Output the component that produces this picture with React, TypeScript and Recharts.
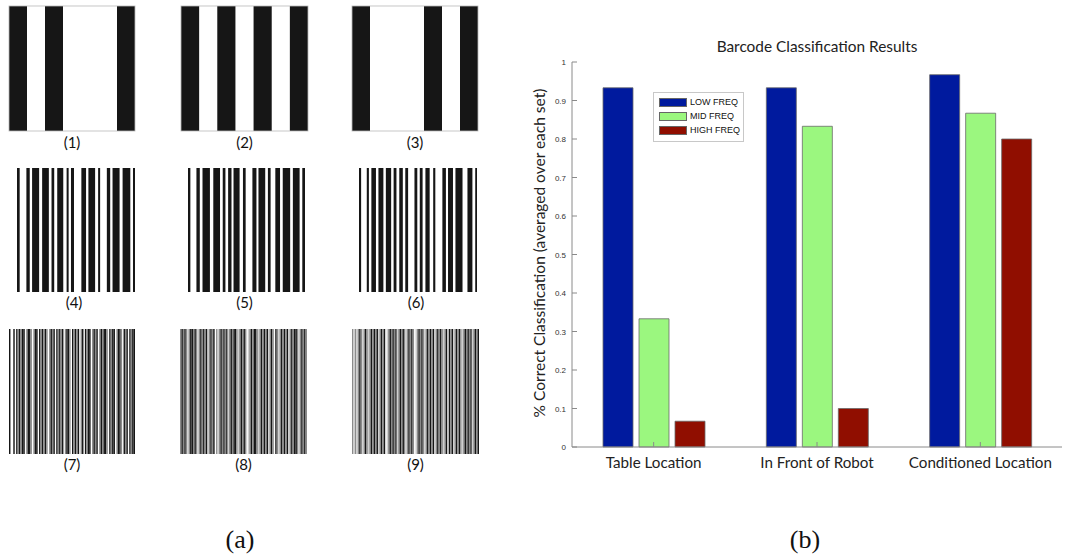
import React from "react";
import { BarChart, Bar, XAxis, YAxis, Legend } from "recharts";

// ---- chart data ----
const categories = ["Table Location", "In Front of Robot", "Conditioned Location"];
const lowFreq = [0.933, 0.933, 0.967];
const midFreq = [0.333, 0.833, 0.867];
const highFreq = [0.067, 0.1, 0.8];
const yTicks = [0, 0.1, 0.2, 0.3, 0.4, 0.5, 0.6, 0.7, 0.8, 0.9, 1];
const seriesKeys = ["low", "mid", "high"];
const seriesNames = ["LOW FREQ", "MID FREQ", "HIGH FREQ"];
const seriesColors = ["#001a9e", "#9bf77f", "#900e00"];

const chartTitle = "Barcode Classification Results";
const yAxisTitle = "% Correct Classification (averaged over each set)";

// ---- barcode samples, panel (a) ----
// coarse codes: one character per module, 1 = bar, 0 = space
const coarseCodes = ["1010001", "1010101", "1000101"];
// medium codes: run lengths alternating bar / space, starting with a bar
const mediumCodes = [
  [8, 20, 10, 7, 21, 9, 20, 8, 8, 9, 18, 10, 6, 7, 9, 22, 14, 7, 20, 9, 6, 20, 10, 7, 21, 9, 23, 8, 6],
  [7, 18, 10, 8, 22, 10, 20, 8, 8, 8, 10, 6, 18, 10, 8, 20, 12, 6, 20, 8, 8, 14, 14, 8, 22, 8, 20, 8, 8],
  [6, 16, 6, 7, 13, 7, 14, 7, 15, 7, 8, 8, 10, 7, 8, 18, 8, 7, 8, 8, 12, 10, 6, 20, 10, 6, 14, 7, 20, 14, 14, 8, 5],
];
// fine codes: one character per module, 0 = white, 1 = light grey, 2 = grey, 3 = black
const fineCodes = [
  "3003032323302332023303232320232303232302332032323023032330232302323320323302332032303233",
  "2323212332321232323123230212323231232332123232012323321232323123203212323231232332123232",
  "2121232123212323231232301232323123232123232012323212323231232321230323123232123232312323",
];
const codeLabels = ["(1)", "(2)", "(3)", "(4)", "(5)", "(6)", "(7)", "(8)", "(9)"];

const data = categories.map((category, i) => ({
  category,
  low: lowFreq[i],
  mid: midFreq[i],
  high: highFreq[i],
}));

const AXIS = "#8a8a8a";
const SANS = "Lato, 'Open Sans', sans-serif";
const HELV = "'Liberation Sans', Arial, sans-serif";
const SERIF = "'Liberation Serif', 'DejaVu Serif', serif";
const greyLevels = ["#ffffff", "#cfcfcf", "#8a8a8a", "#161616"];

const fmtY = (v: number) => (v === 0 ? "0" : v === 1 ? "1" : v.toFixed(1));

const BottomTick = (props: any) => {
  const { x, y, payload } = props;
  return (
    <g>
      <line x1={x} y1={y} x2={x} y2={y - 5} stroke={AXIS} />
      <text x={x} y={y + 21} textAnchor="middle" fontFamily={SANS} fontSize={15.2} fill="#222">
        {payload.value}
      </text>
    </g>
  );
};
const TopTick = (props: any) => {
  const { x, y } = props;
  return <line x1={x} y1={y} x2={x} y2={y + 5} stroke={AXIS} />;
};
const LeftTick = (props: any) => {
  const { x, y, payload } = props;
  return (
    <g>
      <line x1={x} y1={y} x2={x + 5} y2={y} stroke={AXIS} />
      <text x={x - 6} y={y + 3} textAnchor="end" fontFamily={HELV} fontSize={8} fill="#333">
        {fmtY(payload.value)}
      </text>
    </g>
  );
};
const RightTick = (props: any) => {
  const { x, y } = props;
  return <line x1={x} y1={y} x2={x - 5} y2={y} stroke={AXIS} />;
};

// legend entries follow the series order
const LegendBox = () => (
  <div
    style={{
      width: 89,
      height: 46,
      border: "1px solid #c8c8c8",
      background: "#fff",
      boxSizing: "content-box",
      paddingTop: 2,
    }}
  >
    {seriesNames.map((name, i) => (
      <div key={name} style={{ display: "flex", alignItems: "center", height: 14 }}>
        <div
          style={{
            marginLeft: 5,
            width: 28,
            height: 9,
            background: seriesColors[i],
            border: "1px solid #666",
            boxSizing: "border-box",
          }}
        />
        <span style={{ marginLeft: 3, fontFamily: HELV, fontSize: 9, color: "#111", lineHeight: "14px" }}>
          {name}
        </span>
      </div>
    ))}
  </div>
);

// draw one barcode from a list of [level, width] runs into a box
const Runs = ({ x, y, w, h, runs }: { x: number; y: number; w: number; h: number; runs: [number, number][] }) => {
  const total = runs.reduce((s, r) => s + r[1], 0);
  let cx = x;
  return (
    <g>
      {runs.map(([lvl, len], i) => {
        const rw = (len / total) * w;
        const r = lvl > 0 ? <rect key={i} x={cx} y={y} width={rw} height={h} fill={greyLevels[lvl]} /> : null;
        cx += rw;
        return r;
      })}
    </g>
  );
};

const coarseRuns = (code: string): [number, number][] => code.split("").map((c) => [c === "1" ? 3 : 0, 1]);
const mediumRuns = (code: number[]): [number, number][] => code.map((len, i) => [i % 2 === 0 ? 3 : 0, len]);
const fineRuns = (code: string): [number, number][] => code.split("").map((c) => [Number(c), 1]);

const coarseBoxes = [
  { x: 9, w: 126 },
  { x: 181, w: 127 },
  { x: 352, w: 126 },
];
const mediumBoxes = [
  { x: 17, w: 118 },
  { x: 188, w: 117 },
  { x: 359, w: 118 },
];
const fineBoxes = [
  { x: 9, w: 126 },
  { x: 180, w: 127 },
  { x: 352, w: 127 },
];

const PanelA = () => (
  <svg width={1066} height={556} style={{ position: "absolute", left: 0, top: 0 }}>
    {coarseCodes.map((c, i) => (
      <g key={"c" + i}>
        <Runs x={coarseBoxes[i].x} y={6} w={coarseBoxes[i].w} h={125} runs={coarseRuns(c)} />
        <rect x={coarseBoxes[i].x} y={6} width={coarseBoxes[i].w} height={125} fill="none" stroke="#b8b8b8" strokeWidth={0.8} />
        <text x={coarseBoxes[i].x + coarseBoxes[i].w / 2} y={148} textAnchor="middle" fontFamily={SANS} fontSize={15} fill="#111">
          {codeLabels[i]}
        </text>
      </g>
    ))}
    {mediumCodes.map((c, i) => (
      <g key={"m" + i}>
        <Runs x={mediumBoxes[i].x} y={168} w={mediumBoxes[i].w} h={124} runs={mediumRuns(c)} />
        <text x={mediumBoxes[i].x + mediumBoxes[i].w / 2 - 2} y={308} textAnchor="middle" fontFamily={SANS} fontSize={15} fill="#111">
          {codeLabels[3 + i]}
        </text>
      </g>
    ))}
    {fineCodes.map((c, i) => (
      <g key={"f" + i}>
        <Runs x={fineBoxes[i].x} y={329} w={fineBoxes[i].w} h={125} runs={fineRuns(c)} />
        <text x={fineBoxes[i].x + fineBoxes[i].w / 2} y={470} textAnchor="middle" fontFamily={SANS} fontSize={15} fill="#111">
          {codeLabels[6 + i]}
        </text>
      </g>
    ))}
    <text x={240} y={548} textAnchor="middle" fontFamily={SERIF} fontSize={26} fill="#111">
      (a)
    </text>
    <text x={805} y={548} textAnchor="middle" fontFamily={SERIF} fontSize={26} fill="#111">
      (b)
    </text>
    <text x={817} y={52} textAnchor="middle" fontFamily={SANS} fontSize={15.4} fill="#222">
      {chartTitle}
    </text>
    <text
      x={0}
      y={0}
      transform="translate(545,253) rotate(-90)"
      textAnchor="middle"
      fontFamily={SANS}
      fontSize={15.5}
      fill="#222"
    >
      {yAxisTitle}
    </text>
  </svg>
);

export default function App() {
  return (
    <div style={{ position: "relative", width: 1066, height: 556, background: "#fff", overflow: "hidden" }}>
      <style>{"body{margin:0;background:#fff}"}</style>
      <PanelA />
      <div style={{ position: "absolute", left: 500, top: 20 }}>
        <BarChart
          width={566}
          height={500}
          data={data}
          margin={{ top: 42, right: 4, bottom: 43, left: 0 }}
          barGap={6}
          barSize={30}
        >
          <XAxis
            xAxisId="bottom"
            dataKey="category"
            orientation="bottom"
            height={30}
            tickSize={0}
            tickMargin={0}
            tick={<BottomTick />}
            tickLine={false}
            axisLine={{ stroke: AXIS }}
            interval={0}
          />
          <XAxis
            xAxisId="top"
            dataKey="category"
            orientation="top"
            height={0}
            tickSize={0}
            tickMargin={0}
            tick={<TopTick />}
            tickLine={false}
            axisLine={{ stroke: AXIS }}
            interval={0}
          />
          <YAxis
            yAxisId="left"
            domain={[0, 1]}
            ticks={yTicks}
            width={72}
            tickSize={0}
            tickMargin={0}
            tick={<LeftTick />}
            tickLine={false}
            axisLine={{ stroke: AXIS }}
            interval={0}
          />
          <YAxis
            yAxisId="right"
            orientation="right"
            domain={[0, 1]}
            ticks={yTicks}
            width={0}
            tickSize={0}
            tickMargin={0}
            tick={<RightTick />}
            tickLine={false}
            axisLine={{ stroke: AXIS }}
            interval={0}
          />
          <Legend
            layout="horizontal"
            verticalAlign="middle"
            align="center"
            content={<LegendBox />}
            wrapperStyle={{ position: "absolute", left: 153, top: 72, width: 91 }}
          />
          {seriesKeys.map((k, i) => (
            <Bar
              key={k}
              dataKey={k}
              name={seriesNames[i]}
              xAxisId="bottom"
              yAxisId="left"
              fill={seriesColors[i]}
              stroke="#6a6a6a"
              strokeWidth={0.8}
              isAnimationActive={false}
            />
          ))}
        </BarChart>
      </div>
    </div>
  );
}
